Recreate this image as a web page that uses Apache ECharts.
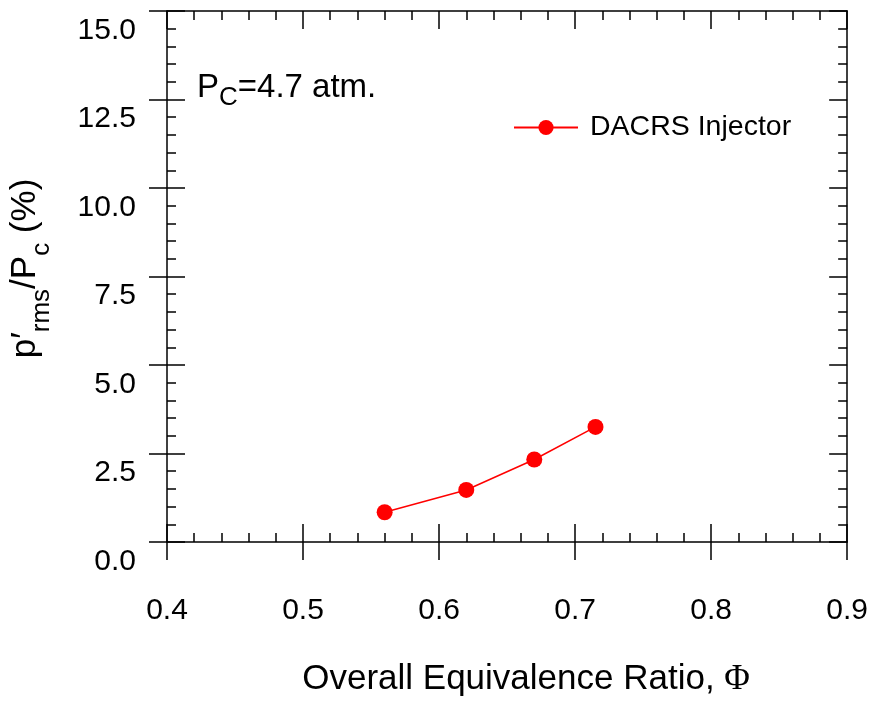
<!DOCTYPE html>
<html>
<head>
<meta charset="utf-8">
<script src="https://cdn.jsdelivr.net/npm/echarts@6/dist/echarts.min.js"></script>
<style>
html,body{margin:0;padding:0;background:#fff;}
#chart{width:871px;height:702px;}
</style>
</head>
<body>
<div id="chart"></div>
<script>
// ---- data ----
const seriesName = 'DACRS Injector';
const phiValues = [0.56, 0.62, 0.67, 0.715];
const prmsValues = [0.84, 1.47, 2.33, 3.25];
const xTickLabels = ['0.4', '0.5', '0.6', '0.7', '0.8', '0.9'];
const yTickLabels = ['0.0', '2.5', '5.0', '7.5', '10.0', '12.5', '15.0'];
const annotationText = '{a|P}{s|C}{a|=4.7 atm.}';

const FONT = 'Liberation Sans';
const black = '#000';
const lineS = { color: black, width: 1.5 };

const chart = echarts.init(document.getElementById('chart'));

function xAx(extra) {
  return Object.assign({
    type: 'value', min: 0.4, max: 0.9, interval: 0.1, gridIndex: 0,
    splitLine: { show: false },
    axisLine: { show: false, onZero: false, lineStyle: lineS },
    axisTick: { show: true, inside: true, length: 18, lineStyle: lineS },
    minorTick: { show: false },
    axisLabel: { show: false }
  }, extra);
}
function yAx(extra) {
  return Object.assign({
    type: 'value', min: 0, max: 15, interval: 2.5, gridIndex: 0,
    splitLine: { show: false },
    axisLine: { show: false, onZero: false, lineStyle: lineS },
    axisTick: { show: true, inside: true, length: 18, lineStyle: lineS },
    minorTick: { show: false },
    axisLabel: { show: false }
  }, extra);
}

const option = {
  animation: false,
  backgroundColor: '#fff',
  textStyle: { fontFamily: FONT },
  grid: { left: 167, top: 11, width: 681, height: 535, containLabel: false },
  legend: {
    data: [seriesName],
    left: 513, top: 113, padding: 0,
    itemWidth: 64, itemHeight: 19,
    textStyle: { fontFamily: FONT, fontSize: 28.5, color: black, padding: [0, 0, 0, 7] }
  },
  xAxis: [
    xAx({
      position: 'bottom',
      axisLine: { show: true, onZero: false, lineStyle: lineS },
      minorTick: { show: true, splitNumber: 5, length: 9, lineStyle: lineS },
      axisLabel: {
        show: true, fontSize: 30, color: black, fontFamily: FONT, margin: 54,
        formatter: function (v) { return xTickLabels[Math.round((v - 0.4) * 10)]; }
      },
      name: '{a|Overall Equivalence Ratio, }{b|Φ}',
      nameLocation: 'middle', nameGap: 120,
      nameTextStyle: {
        color: black,
        padding: [0, 0, 0, 38],
        rich: {
          a: { fontFamily: FONT, fontSize: 35, color: black },
          b: { fontFamily: 'Liberation Serif', fontSize: 35, color: black }
        }
      }
    }),
    xAx({ position: 'bottom', axisTick: { show: true, inside: false, length: 18, lineStyle: lineS } }),
    xAx({
      position: 'top',
      axisLine: { show: true, onZero: false, lineStyle: lineS },
      minorTick: { show: true, splitNumber: 5, length: 9, lineStyle: lineS }
    })
  ],
  yAxis: [
    yAx({
      position: 'left',
      axisLine: { show: true, onZero: false, lineStyle: lineS },
      minorTick: { show: true, splitNumber: 5, length: 9, lineStyle: lineS },
      axisLabel: {
        show: true, color: black, margin: 31,
        formatter: function (v) { return '{t|' + yTickLabels[Math.round(v / 2.5)] + '}'; },
        rich: {
          t: { fontFamily: FONT, fontSize: 30, color: black, padding: [39, 0, 0, 0] }
        }
      },
      name: '{a|p′}{s|rms}{a|/P}{s|c}{a| (%)}',
      nameLocation: 'middle', nameGap: 92, nameRotate: 90,
      nameTextStyle: {
        color: black,
        padding: [0, 0, 0, 16],
        rich: {
          a: { fontFamily: FONT, fontSize: 35, lineHeight: 35, verticalAlign: 'top', color: black },
          s: { fontFamily: FONT, fontSize: 26, lineHeight: 67, verticalAlign: 'middle', color: black }
        }
      }
    }),
    yAx({ position: 'left', axisTick: { show: true, inside: false, length: 18, lineStyle: lineS } }),
    yAx({
      position: 'right',
      axisLine: { show: true, onZero: false, lineStyle: lineS },
      minorTick: { show: true, splitNumber: 5, length: 9, lineStyle: lineS }
    })
  ],
  graphic: [{
    type: 'text', left: 197, top: 71,
    style: {
      text: annotationText,
      rich: {
        a: { fontFamily: FONT, fontSize: 33, lineHeight: 33, verticalAlign: 'top', fill: black },
        s: { fontFamily: FONT, fontSize: 26, lineHeight: 53, verticalAlign: 'middle', fill: black }
      }
    }
  }],
  series: [{
    name: seriesName,
    type: 'line',
    xAxisIndex: 0, yAxisIndex: 0,
    data: phiValues.map((x, i) => [x, prmsValues[i]]),
    symbol: 'circle', symbolSize: 16,
    itemStyle: { color: '#ff0000' },
    lineStyle: { color: '#ff0000', width: 1.5 },
    clip: false
  }]
};
chart.setOption(option);
</script>
</body>
</html>
